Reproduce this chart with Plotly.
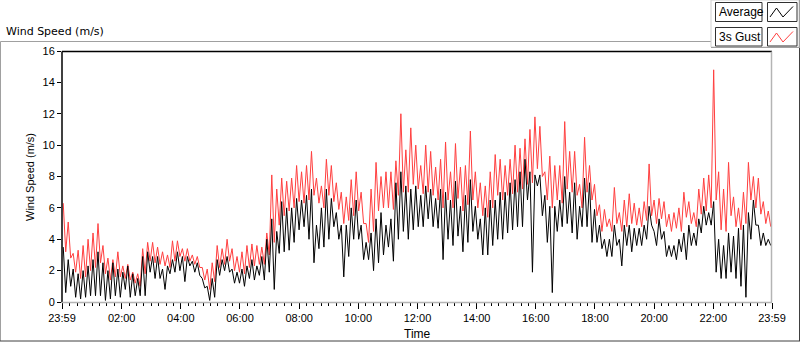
import plotly.graph_objects as go

# ---------------- data (m/s) ----------------
# per ~10-minute bin: highest / lowest excursion of each trace
gust_hi = [6.3, 5.1, 3.1, 3.3, 3.6, 4.0, 4.4, 5.0, 3.6, 2.8, 2.7, 3.2, 2.3, 2.4, 1.9, 1.8, 3.4, 3.8, 3.8, 3.5,
           3.2, 3.0, 3.9, 3.9, 3.4, 3.4, 3.0, 2.9, 2.2, 2.1, 2.5, 3.6, 3.4, 4.0, 3.4, 2.9, 3.2, 3.6, 3.7, 3.6,
           3.5, 4.4, 8.1, 7.2, 7.9, 7.7, 7.9, 8.7, 8.3, 8.7, 9.6, 7.9, 7.4, 9.1, 8.7, 7.6, 7.0, 6.7, 7.8, 8.3,
           7.0, 5.0, 7.2, 8.9, 8.0, 8.3, 8.3, 9.0, 12.0, 9.7, 11.1, 10.0, 8.7, 10.0, 9.6, 8.6, 9.1, 10.2, 8.3, 10.1,
           8.6, 8.7, 10.9, 8.3, 7.6, 7.4, 8.3, 9.4, 9.1, 8.7, 9.1, 10.0, 9.8, 10.4, 11.0, 11.8, 11.2, 8.3, 9.3, 8.7,
           8.7, 11.5, 9.6, 9.6, 7.5, 10.5, 8.7, 7.5, 6.2, 5.9, 5.3, 7.3, 5.7, 6.5, 6.9, 6.3, 6.0, 6.4, 8.8, 6.5,
           6.6, 6.4, 5.6, 5.7, 6.0, 7.0, 6.4, 5.7, 7.2, 7.9, 8.1, 14.8, 8.3, 7.2, 8.9, 6.7, 6.0, 7.0, 8.9, 8.0,
           7.9, 6.4, 5.8]
gust_lo = [3.2, 2.8, 1.9, 1.5, 1.6, 2.0, 2.2, 2.5, 1.8, 1.4, 1.6, 1.6, 1.5, 1.4, 1.2, 1.0, 1.8, 2.6, 2.5, 2.4,
           2.3, 2.2, 2.6, 2.9, 2.6, 2.6, 2.4, 2.2, 1.4, 0.8, 1.3, 2.2, 2.4, 2.6, 2.0, 1.9, 1.8, 2.2, 2.3, 2.4,
           2.4, 3.0, 3.8, 4.9, 5.5, 5.8, 6.0, 6.4, 6.3, 6.5, 6.8, 6.3, 6.0, 6.8, 6.4, 5.9, 5.0, 5.2, 5.5, 5.8,
           5.0, 3.8, 4.5, 5.8, 6.0, 6.0, 5.9, 6.8, 7.0, 7.0, 7.5, 7.2, 6.9, 7.0, 6.8, 6.5, 6.0, 6.5, 6.0, 6.6,
           5.8, 6.2, 6.5, 6.0, 5.5, 5.4, 6.0, 6.8, 6.5, 6.8, 6.9, 7.0, 7.2, 7.5, 7.6, 8.5, 8.0, 6.5, 6.0, 6.5,
           6.3, 7.2, 7.0, 6.8, 6.0, 7.0, 6.5, 5.5, 4.5, 4.8, 4.5, 5.0, 4.5, 4.8, 5.0, 4.9, 4.8, 5.2, 5.5, 5.0,
           5.3, 4.8, 4.5, 4.7, 4.5, 5.4, 5.0, 4.8, 5.6, 5.8, 6.0, 6.5, 4.6, 4.5, 5.5, 4.8, 4.6, 5.0, 6.5, 6.0,
           5.6, 5.0, 4.8]
avg_hi = [3.5, 2.7, 2.1, 1.8, 2.0, 2.3, 2.7, 3.2, 2.5, 2.0, 2.5, 2.1, 1.9, 2.3, 1.8, 1.5, 2.9, 3.2, 2.9, 2.9,
          2.1, 2.3, 2.7, 3.2, 2.9, 2.9, 2.6, 2.5, 1.5, 1.0, 1.5, 2.7, 2.7, 2.9, 2.1, 1.9, 2.1, 2.3, 2.7, 2.3,
          2.9, 4.0, 5.3, 4.5, 6.4, 6.0, 6.0, 6.6, 6.5, 6.8, 7.2, 4.9, 6.0, 7.2, 6.6, 5.7, 4.9, 4.9, 6.0, 6.5,
          4.9, 3.8, 4.4, 5.3, 5.7, 4.9, 5.3, 7.6, 8.3, 7.4, 7.2, 7.4, 6.8, 7.4, 7.2, 6.6, 7.2, 7.0, 6.5, 7.7,
          6.1, 6.8, 7.8, 6.1, 5.3, 6.0, 6.5, 6.5, 7.0, 7.0, 7.6, 7.8, 8.3, 9.1, 8.3, 8.1, 8.1, 6.8, 6.1, 6.1,
          6.5, 8.0, 7.0, 7.6, 6.1, 7.9, 7.6, 5.9, 4.9, 4.0, 4.0, 4.9, 4.0, 4.9, 4.9, 4.7, 4.7, 4.9, 6.1, 4.5,
          5.3, 4.5, 3.6, 3.6, 4.0, 4.4, 4.9, 4.4, 5.3, 6.1, 5.7, 6.4, 4.0, 3.6, 4.4, 4.2, 4.7, 4.9, 5.7, 6.5,
          4.9, 4.4, 4.0]
avg_lo = [0.6, 1.0, 0.3, 0.2, 0.3, 0.4, 0.4, 0.4, 0.1, 0.2, 0.4, 0.3, 0.8, 0.3, 0.4, 0.4, 0.4, 1.9, 1.5, 1.5,
          0.8, 1.8, 1.9, 2.0, 1.3, 2.3, 1.9, 1.7, 0.9, 0.1, 0.3, 1.7, 2.0, 1.9, 1.2, 1.2, 1.0, 1.5, 1.4, 1.7,
          1.4, 1.9, 0.8, 3.1, 3.2, 3.3, 3.8, 4.6, 4.8, 4.0, 2.5, 3.4, 3.5, 4.0, 4.8, 4.0, 1.6, 2.9, 4.0, 4.0,
          2.7, 2.7, 2.0, 2.5, 3.0, 3.5, 2.6, 4.0, 4.5, 4.0, 4.6, 4.8, 4.8, 5.3, 4.8, 4.7, 2.7, 4.0, 3.6, 4.2,
          3.2, 3.8, 4.5, 4.0, 3.0, 3.0, 3.6, 4.0, 4.0, 4.4, 4.6, 4.8, 4.8, 6.5, 1.9, 7.4, 5.5, 3.8, 0.6, 4.5,
          4.8, 5.0, 4.4, 4.0, 4.8, 4.8, 3.8, 3.8, 3.4, 2.9, 2.9, 3.6, 2.3, 3.6, 3.2, 3.6, 3.6, 4.0, 4.9, 3.6,
          4.0, 2.9, 2.9, 2.7, 3.2, 2.7, 3.6, 3.6, 4.4, 4.9, 4.9, 1.9, 1.5, 1.5, 1.9, 1.5, 1.0, 0.3, 4.0, 4.9,
          3.6, 3.6, 3.6]

y_ticks = [0, 2, 4, 6, 8, 10, 12, 14, 16]
x_tick_labels = ["23:59", "02:00", "04:00", "06:00", "08:00", "10:00", "12:00",
                 "14:00", "16:00", "18:00", "20:00", "22:00", "23:59"]

# ---------------- build series ----------------
TOTAL = 1440.0  # minutes shown (23:59 -> 23:59)
nb = len(gust_hi)
w = TOTAL / nb


def zig(hi, lo):
    xs, ys = [], []
    for k in range(len(hi)):
        xs += [k * w + 0.25 * w, k * w + 0.75 * w]
        ys += [hi[k], lo[k]]
    return xs, ys


gx, gy = zig(gust_hi, gust_lo)
ax_, ay = zig(avg_hi, avg_lo)

x_tick_vals = [0] + [121 + 120 * i for i in range(11)] + [1440]
minor_vals = [1 + 15 * i for i in range(96)]

W, H = 800, 342
L, R, T, B = 62, 28, 51, 40
PW, PH = W - L - R, H - T - B


def px(x):
    return (x - L) / PW


def py(y):
    return (H - B - y) / PH


fig = go.Figure()
fig.add_trace(go.Scatter(x=gx, y=gy, mode="lines", name="3s Gust",
                         line=dict(color="#ff3f3f", width=1), showlegend=False,
                         hoverinfo="skip"))
fig.add_trace(go.Scatter(x=ax_, y=ay, mode="lines", name="Average",
                         line=dict(color="#000000", width=1), showlegend=False,
                         hoverinfo="skip"))

shapes = []


def line(x0, y0, x1, y1, color, width=1):
    shapes.append(dict(type="line", xref="paper", yref="paper",
                       x0=px(x0), y0=py(y0), x1=px(x1), y1=py(y1),
                       line=dict(color=color, width=width), layer="above"))


def rect(x0, y0, x1, y1, fill, color, width=1):
    shapes.append(dict(type="rect", xref="paper", yref="paper",
                       x0=px(x0), y0=py(y0), x1=px(x1), y1=py(y1),
                       fillcolor=fill, line=dict(color=color, width=width), layer="above"))


# outer chart frame
line(0.5, 41.5, 711, 41.5, "#a0a0a0")
line(0.5, 41.5, 0.5, 341, "#a0a0a0")
line(0, 341, 800, 341, "#404040")
line(799.5, 47, 799.5, 341, "#404040")

# plot frame (sunken look)
line(62, 51.5, 772, 51.5, "#000000", 1.5)
line(62, 51.5, 62, 302.5, "#000000", 1.5)
line(771.5, 51.5, 771.5, 302.5, "#b4b4b4", 1.5)
line(62, 302.5, 772, 302.5, "#b4b4b4", 1.5)

# legend block
rect(711, 0, 799, 47, "#ffffff", "#d0d0d0")
line(711, 47.5, 800, 47.5, "#a0a0a0")
line(799.5, 0, 799.5, 48, "#a0a0a0")
rect(715.5, 2.5, 762, 21.5, "#ffffff", "#303030")
rect(767.5, 2.5, 797, 21.5, "#ffffff", "#303030")
rect(715.5, 27.5, 762, 46, "#ffffff", "#303030")
rect(767.5, 27.5, 797, 46, "#ffffff", "#303030")


def zigzag(yoff, color):
    pts = [(770, 17 + yoff), (776.5, 8 + yoff), (783, 17 + yoff), (793, 6.5 + yoff)]
    d = "M " + " L ".join(f"{px(a):.5f},{py(b):.5f}" for a, b in pts)
    shapes.append(dict(type="path", xref="paper", yref="paper", path=d,
                       line=dict(color=color, width=1), layer="above"))


zigzag(0, "#000000")
zigzag(25, "#ff3f3f")

FT = "Liberation Sans, Arial, sans-serif"
FD = "DejaVu Sans, Verdana, sans-serif"

annotations = [
    dict(text="Wind Speed (m/s)", x=px(4), y=py(31), xref="paper", yref="paper",
         xanchor="left", yanchor="middle", showarrow=False,
         font=dict(family=FD, size=11, color="#000000")),
    dict(text="Wind Speed (m/s)", x=px(30), y=py(177), xref="paper", yref="paper",
         xanchor="center", yanchor="middle", showarrow=False, textangle=-90,
         font=dict(family=FT, size=11, color="#000000")),
    dict(text="Time", x=px(417), y=py(334), xref="paper", yref="paper",
         xanchor="center", yanchor="middle", showarrow=False,
         font=dict(family=FT, size=12, color="#000000")),
    dict(text="Average", x=px(717), y=py(12), xref="paper", yref="paper",
         xanchor="left", yanchor="middle", showarrow=False,
         font=dict(family=FT, size=12, color="#000000")),
    dict(text="3s Gust", x=px(717), y=py(37), xref="paper", yref="paper",
         xanchor="left", yanchor="middle", showarrow=False,
         font=dict(family=FT, size=12, color="#000000")),
]

fig.update_layout(
    width=W, height=H,
    margin=dict(l=L, r=R, t=T, b=B, pad=0),
    paper_bgcolor="#ffffff", plot_bgcolor="#ffffff",
    shapes=shapes, annotations=annotations,
    hovermode=False,
    xaxis=dict(range=[0, 1440], tickmode="array", tickvals=x_tick_vals, ticktext=x_tick_labels,
               ticks="outside", ticklen=6, tickcolor="#000000", tickwidth=1,
               showgrid=False, zeroline=False, showline=False, fixedrange=True,
               tickfont=dict(family=FT, size=11, color="#000000"),
               minor=dict(tickmode="array", tickvals=minor_vals, ticks="outside",
                          ticklen=3, tickcolor="#000000", tickwidth=1, showgrid=False)),
    yaxis=dict(range=[0, 16], tickmode="array", tickvals=y_ticks,
               ticks="outside", ticklen=4, tickcolor="#000000", tickwidth=1,
               showgrid=False, zeroline=False, showline=False, fixedrange=True,
               tickfont=dict(family=FT, size=11, color="#000000")),
)

fig.write_html("out.html", config={"displayModeBar": False, "staticPlot": True},
               post_script="document.body.style.margin='0px';document.body.style.overflow='hidden';")
